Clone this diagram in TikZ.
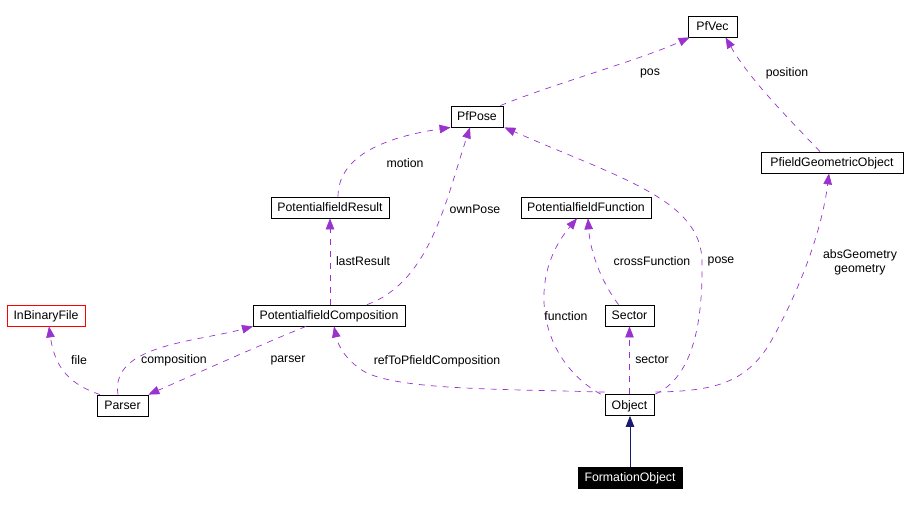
\documentclass[tikz,border=0pt]{standalone}
\usepackage{fontspec}
\setmainfont{Liberation Sans}
\usetikzlibrary{arrows.meta}
\definecolor{edgepurple}{HTML}{9A32CD}
\definecolor{navy}{HTML}{191970}
\begin{document}
\begin{tikzpicture}[x=1pt,y=-1pt,
  font=\fontsize{12.3}{14}\selectfont,
  cls/.style={draw=black, line width=0.8pt, fill=white, inner sep=0pt, minimum height=21pt, text height=8.7pt, text depth=0pt},
  rel/.style={draw=edgepurple, line width=0.7pt, dash pattern=on 6pt off 6pt, -{Triangle[length=11pt,width=8.5pt]}},
  lbl/.style={inner sep=0pt, align=center}]
\useasboundingbox (0,0) rectangle (916,505);
% nodes
\node[cls, minimum width=49pt] (pfvec) at (712.5,26.5) {PfVec};
\node[cls, minimum width=52pt] (pfpose) at (477,116.5) {PfPose};
\node[cls, minimum width=142pt] (pgo) at (832,162.5) {PfieldGeometricObject};
\node[cls, minimum width=118pt] (pres) at (330,207.5) {PotentialfieldResult};
\node[cls, minimum width=130pt] (pfun) at (586,207.5) {PotentialfieldFunction};
\node[cls, draw=red, minimum width=78pt] (inbin) at (46,315.5) {InBinaryFile};
\node[cls, minimum width=152pt] (pcomp) at (329,315.5) {PotentialfieldComposition};
\node[cls, minimum width=49pt] (sector) at (629.5,315.5) {Sector};
\node[cls, minimum width=51pt] (parser) at (122.5,405.5) {Parser};
\node[cls, minimum width=49pt] (object) at (629.5,405) {Object};
\node[cls, fill=black, text=white, minimum width=104pt] (formobj) at (630,477.5) {FormationObject};
% edges
\draw[rel] ([xshift=-22.5pt]parser.north) .. controls (72,385) and (55,370) .. ([xshift=3pt]inbin.south);
\draw[rel] ([xshift=-4.5pt]parser.north) .. controls (110,345) and (195,342) .. ([xshift=-76pt]pcomp.south);
\draw[rel] ([xshift=-23pt]pcomp.south) .. controls (260,345) and (200,372) .. (parser.north east);
\draw[rel] ([xshift=1pt]pcomp.north) -- ([xshift=0pt]pres.south);
\draw[rel] ([xshift=38pt]pcomp.north) .. controls (430,282) and (446,200) .. ([xshift=-7pt]pfpose.south);
\draw[rel] ([xshift=8pt]pres.north) .. controls (338,150) and (400,135) .. (pfpose.south west);
\draw[rel] ([xshift=-3pt]pfpose.north east) .. controls (550,85) and (640,60) .. ([xshift=2pt]pfvec.south west);
\draw[rel] ([xshift=-12pt]pgo.north) .. controls (790,120) and (750,80) .. ([xshift=13pt]pfvec.south);
\draw[rel] ([xshift=-4pt]object.north west) .. controls (540,360) and (525,280) .. ([xshift=-9pt]pfun.south);
\draw[rel] ([xshift=-11pt]sector.north) .. controls (600,280) and (590,250) .. ([xshift=2pt]pfun.south);
\draw[rel] (object.north) -- (sector.south);
\draw[rel] ([xshift=1pt]object.north east) .. controls (690,378) and (703,330) .. (702,262) .. controls (702,200) and (620,178) .. ([xshift=1pt]pfpose.south east);
\draw[rel] ([xshift=1pt,yshift=2pt]object.north east) .. controls (710,391) and (745,385) .. (770,343) .. controls (800,290) and (822,230) .. ([xshift=-3pt]pgo.south);
\draw[rel] ([yshift=2pt]object.north west) .. controls (500,389) and (400,390) .. (365,372) .. controls (345,360) and (338,345) .. ([xshift=5pt]pcomp.south);
\draw[draw=navy, line width=0.8pt, -{Triangle[length=11pt,width=8.5pt]}] (formobj.north) -- ([xshift=0.5pt]object.south);
% labels
\node[lbl] (lpos) at (650,73) {pos};
\node[lbl] (lposition) at (787,73) {position};
\node[lbl] (lmotion) at (405,163) {motion};
\node[lbl] (lownpose) at (475,209) {ownPose};
\node[lbl] (llast) at (363,261) {lastResult};
\node[lbl] (lcross) at (652,261) {crossFunction};
\node[lbl] (lpose) at (721,261) {pose};
\node[lbl] (lgeom) at (860,262) {absGeometry\\geometry};
\node[lbl] (lfunc) at (566,316) {function};
\node[lbl] (lfile) at (79,360) {file};
\node[lbl] (lcompo) at (174,360) {composition};
\node[lbl] (lparser) at (288,360) {parser};
\node[lbl] (lref) at (437,361) {refToPfieldComposition};
\node[lbl] (lsector) at (652,360) {sector};
\end{tikzpicture}
\end{document}
